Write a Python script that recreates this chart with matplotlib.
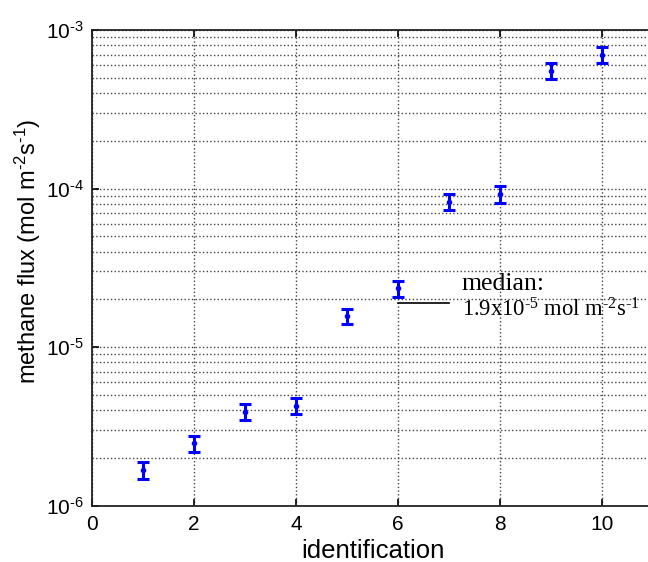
import numpy as np
import matplotlib
matplotlib.use("Agg")
import matplotlib.pyplot as plt
from matplotlib.ticker import LogLocator, NullFormatter, MultipleLocator, FuncFormatter

plt.rcParams['font.family'] = ['Liberation Sans', 'DejaVu Sans']
plt.rcParams['mathtext.fontset'] = 'custom'
plt.rcParams['mathtext.rm'] = 'Liberation Sans'
plt.rcParams['mathtext.it'] = 'Liberation Sans:italic'
plt.rcParams['mathtext.default'] = 'regular'

HY = '\u2010'  # short hyphen for exponents

# flux per identification number, with error
ident = [1, 2, 3, 4, 5, 6, 7, 8, 9, 10]
flux = [1.68e-6, 2.47e-6, 3.92e-6, 4.27e-6, 1.57e-5, 2.35e-5, 8.27e-5, 9.25e-5, 5.54e-4, 6.96e-4]
flux_err = [0.2e-6, 0.3e-6, 0.45e-6, 0.5e-6, 0.18e-5, 0.28e-5, 0.95e-5, 1.1e-5, 0.65e-4, 0.8e-4]
median_flux = 1.9e-5
median_span = [6, 7]

fig = plt.figure(figsize=(6.48, 5.62), dpi=100)
ax = fig.add_axes([0.142, 0.1002, 0.8657, 0.8464])

ax.errorbar(ident, flux, yerr=flux_err, fmt='.', color='blue', ecolor='blue',
            markersize=6, elinewidth=2.2, capsize=4, capthick=2.2)
ax.plot(median_span, [median_flux, median_flux], color='black', lw=1.2)

ax.text(7.25, 2.28e-5, 'median:', family='Liberation Serif', fontsize=18.5,
        va='baseline', ha='left')
ax.text(7.25, 1.56e-5, '1.9x10$^{%s5}$ mol m$^{%s2}$s$^{%s1}$' % (HY, HY, HY),
        family='Liberation Serif', fontsize=16.3, va='baseline', ha='left')


def sci_label(v, pos):
    e = int(round(np.log10(v)))
    return '$10^{%s%d}$' % (HY, -e)


ax.set_yscale('log')
ax.set_ylim(1e-6, 1e-3)
ax.set_xlim(0, 11)
ax.xaxis.set_major_locator(MultipleLocator(2))
ax.yaxis.set_major_locator(LogLocator(base=10))
ax.yaxis.set_major_formatter(FuncFormatter(sci_label))
ax.yaxis.set_minor_locator(LogLocator(base=10, subs=np.arange(2, 10)))
ax.yaxis.set_minor_formatter(NullFormatter())

ax.grid(True, which='major', axis='both', linestyle=':', color='#444444', lw=1.0)
ax.grid(True, which='minor', axis='y', linestyle=':', color='#444444', lw=1.0)

ax.tick_params(which='both', direction='in', top=True, right=False, labelsize=15)
ax.tick_params(which='major', length=5, width=1.2)
ax.tick_params(axis='x', which='major', pad=7)
ax.tick_params(axis='y', which='major', pad=6)
ax.tick_params(which='minor', length=0)
for side in ['left', 'bottom', 'top']:
    ax.spines[side].set_linewidth(1.3)
    ax.spines[side].set_color('#222222')
ax.spines['right'].set_visible(False)

ax.set_xlabel('identification', fontsize=18.5, labelpad=3)
ax.set_ylabel('methane flux (mol m$^{%s2}$s$^{%s1}$)' % (HY, HY), fontsize=17)
ax.yaxis.set_label_coords(-0.088, 0.534)

fig.savefig('out.png', dpi=100)
